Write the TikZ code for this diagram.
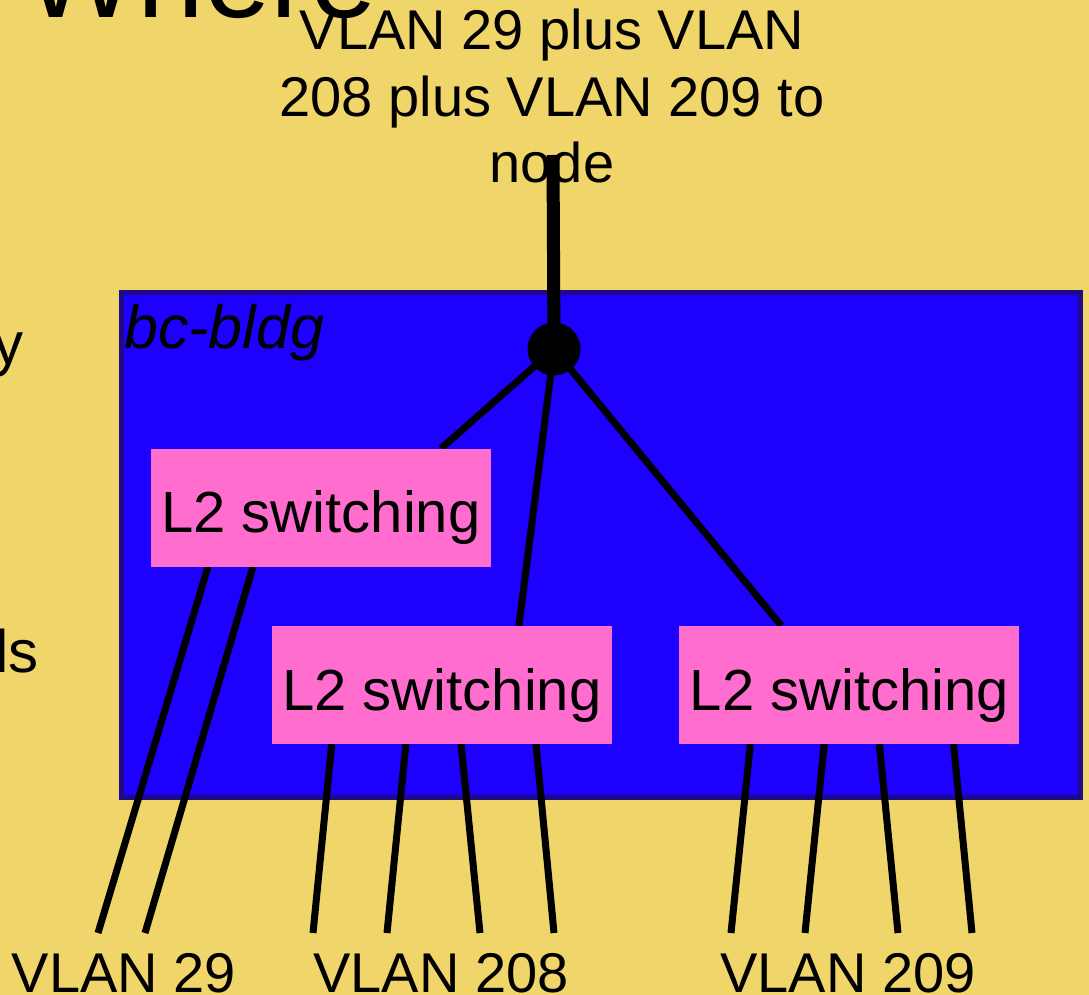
\documentclass[tikz,border=0pt]{standalone}
\usepackage{fontspec}
\setmainfont{Liberation Sans}
\usetikzlibrary{positioning,calc}
\definecolor{slide}{HTML}{F0D56A}
\definecolor{bldgblue}{HTML}{1E00FF}
\definecolor{bldgedge}{HTML}{1C0A86}
\definecolor{swpink}{HTML}{FF6ECE}
\newcommand{\setsz}[2]{\fontsize{#1}{#2}\selectfont}

\begin{document}
\begin{tikzpicture}[x=1pt,y=-1pt,sw/.style={fill=swpink,minimum width=340pt,minimum height=118pt,inner sep=0pt,text height=50pt,text depth=0pt,font=\setsz{58}{66}},wire/.style={line width=7pt},trunk/.style={line width=13pt},lbl/.style={inner sep=0pt,anchor=base,font=\setsz{56}{66}},frag/.style={inner sep=0pt,font=\setsz{60}{70}}]
\useasboundingbox (0,0) rectangle (1089,995);
\clip (0,0) rectangle (1089,995);
\fill[slide] (0,0) rectangle (1089,995);
% slide text behind the drawing
\node[frag,anchor=base west,font=\setsz{120}{130}] (title) at (24,18) {Where};
\node[frag,anchor=base east] (fragA) at (24,364) {y};
\node[frag,anchor=base east] (fragB) at (39,672) {ls};
\node[lbl,align=center,font=\setsz{56}{66.5}] (uplink) at (552,183) {VLAN 29 plus VLAN\\208 plus VLAN 209 to\\node};
% the building
\node[draw=bldgedge,line width=4.5pt,fill=bldgblue,minimum width=959pt,minimum height=505pt,inner sep=0pt] (bldg) at (601,545) {};
\node[inner sep=0pt,anchor=base west,font=\setsz{61}{66}\itshape] (bldgname) at (124,348) {bc-bldg};
\node[circle,fill=black,minimum size=53pt,inner sep=0pt] (hub) at (554,349) {};
\coordinate (uptop) at (553,155);
\draw[trunk] (uptop)--(hub.center);
% switches
\node[sw] (swB) at (442,685) {};
\node[sw,right=67pt of swB] (swC) {};
\node[sw,above=59pt of swB,xshift=-121pt] (swA) {};
\draw[wire] (hub.center)--($(swA.north west)!0.853!(swA.north east)$);
\draw[wire] (hub.center)--($(swB.north west)!0.726!(swB.north east)$);
\draw[wire] (hub.center)--($(swC.north west)!0.3!(swC.north east)$);
\node[lbl] (vA) at (124,992) {VLAN 29};
\node[lbl] (vB) at (441,992) {VLAN 208};
\node[lbl] (vC) at (848,992) {VLAN 209};
\draw[wire] ($(swA.south west)!0.168!(swA.south east)$)--($(vA.base)+(-26,-59)$);
\draw[wire] ($(swA.south west)!0.3!(swA.south east)$)--($(vA.base)+(21,-59)$);
\draw[wire] ($(swB.south west)!0.176!(swB.south east)$)--($(vB.base)+(-128,-59)$);
\draw[wire] ($(swB.south west)!0.394!(swB.south east)$)--($(vB.base)+(-54,-59)$);
\draw[wire] ($(swB.south west)!0.556!(swB.south east)$)--($(vB.base)+(39,-59)$);
\draw[wire] ($(swB.south west)!0.776!(swB.south east)$)--($(vB.base)+(113,-59)$);
\draw[wire] ($(swC.south west)!0.209!(swC.south east)$)--($(vC.base)+(-117,-59)$);
\draw[wire] ($(swC.south west)!0.426!(swC.south east)$)--($(vC.base)+(-43,-59)$);
\draw[wire] ($(swC.south west)!0.588!(swC.south east)$)--($(vC.base)+(50,-59)$);
\draw[wire] ($(swC.south west)!0.806!(swC.south east)$)--($(vC.base)+(124,-59)$);
\node[sw] at (swA) {L2 switching};
\node[sw] at (swB) {L2 switching};
\node[sw] at (swC) {L2 switching};
\end{tikzpicture}
\end{document}
